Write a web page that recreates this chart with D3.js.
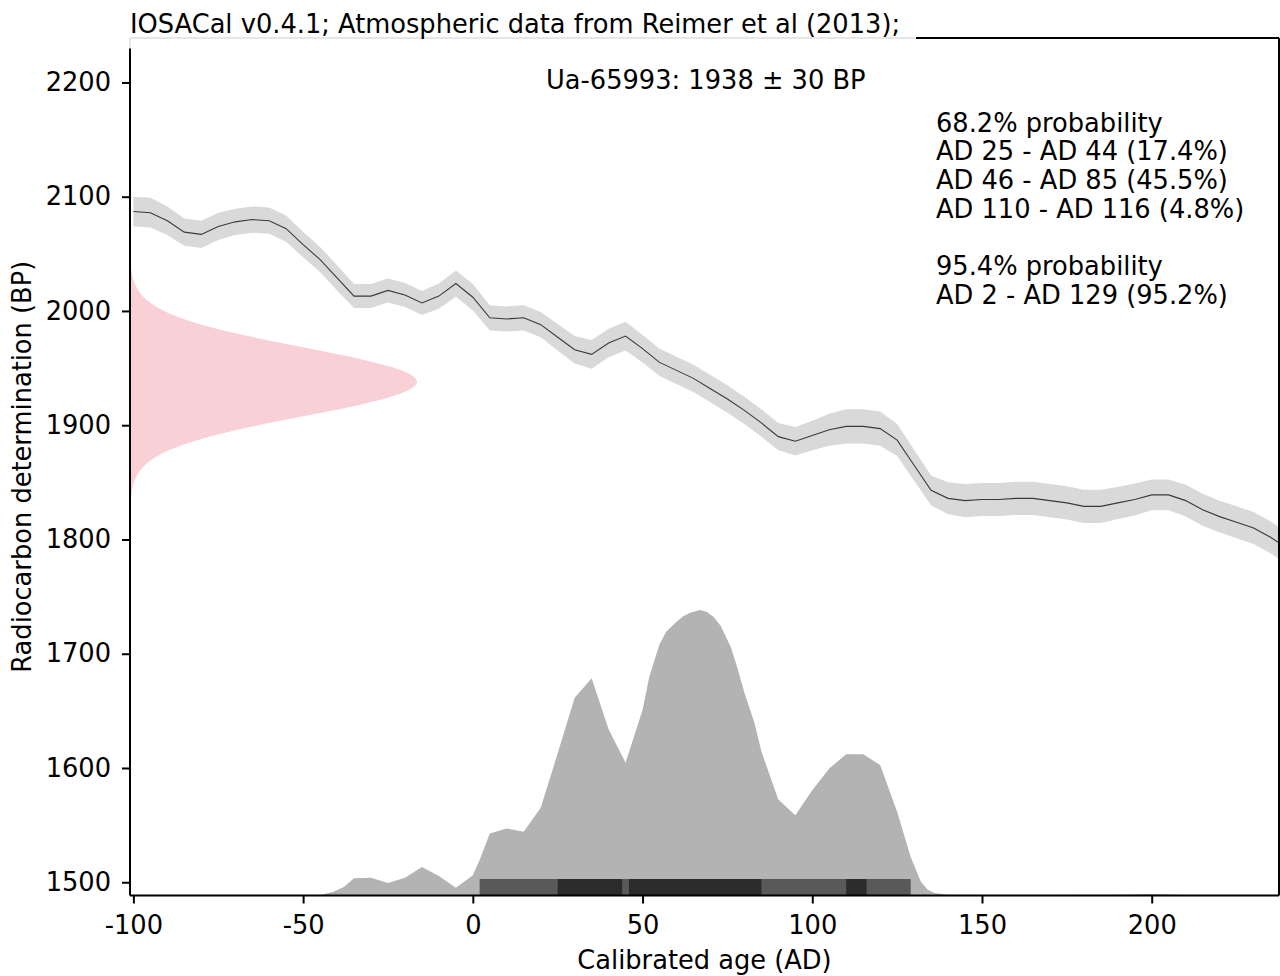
<!DOCTYPE html>
<html>
<head>
<meta charset="utf-8">
<script src="https://cdn.jsdelivr.net/npm/d3@7"></script>
<style>
  body { margin: 0; background: #fff; }
  svg text { font-family: "DejaVu Sans", sans-serif; fill: #000; }
</style>
</head>
<body>
<div id="chart"></div>
<script>
// calibration curve (IntCal13), 5-year steps
const curveYears = d3.range(-100, 241, 5);
const curveBP = [
  2087, 2086, 2079, 2069, 2067, 2074, 2078, 2080, 2079, 2072,
  2058, 2045, 2029, 2013, 2013, 2018, 2014, 2007, 2013, 2024,
  2012, 1994, 1993, 1994, 1988, 1977, 1966, 1962, 1972, 1978,
  1967, 1955, 1948, 1941, 1932, 1923, 1913, 1902, 1890, 1886,
  1891, 1896, 1899, 1899, 1897, 1887, 1865, 1843, 1836, 1834,
  1835, 1835, 1836, 1836, 1834, 1832, 1829, 1829, 1832, 1835,
  1839, 1839, 1834, 1826, 1820, 1815, 1810, 1802, 1792
];
const curveSigma = [
  13, 13, 12.5, 12, 12, 12, 11.5, 11.5, 11.5, 11.5,
  11, 11, 11, 10.5, 10.5, 10.5, 10.5, 10.5, 11, 11.5,
  11.5, 11, 11, 11, 11, 11.5, 12, 12.5, 12.5, 12.5,
  12, 12, 12, 12, 12, 12, 12, 12, 12, 12.5,
  13, 14, 15, 15, 15, 14, 13.5, 13, 14, 14.5,
  14.5, 14.5, 14.5, 14.5, 14.5, 14.5, 14.5, 14.5, 14, 14,
  13.5, 13.5, 14, 14, 14, 14, 14, 14, 14
];

// radiocarbon date 1938 +/- 30 BP, relative density
const dateBP = [1818, 1828, 1838, 1848, 1858, 1868, 1878, 1888, 1898, 1908, 1918, 1928,
  1938, 1948, 1958, 1968, 1978, 1988, 1998, 2008, 2018, 2028, 2038, 2048, 2058];
const dateDensity = [0.0003, 0.0012, 0.0039, 0.011, 0.029, 0.066, 0.135, 0.249, 0.411, 0.607, 0.801, 0.946,
  1, 0.946, 0.801, 0.607, 0.411, 0.249, 0.135, 0.066, 0.029, 0.011, 0.0039, 0.0012, 0.0003];

// calibrated probability (relative to peak)
const calYears = [-50, -45, -41, -38, -35, -30, -25, -20, -15, -10, -5, 0, 2, 5, 10, 15, 20, 25, 30, 35,
  40, 45, 50, 52, 55, 57, 60, 62, 64, 67, 69, 71, 73, 76, 78, 80, 83, 85, 90, 95, 100,
  105, 110, 115, 120, 125, 129, 132, 134, 136, 140, 150, 170, 190, 200, 210, 220];
const calProb = [0, 0.002, 0.013, 0.03, 0.06, 0.062, 0.044, 0.062, 0.1, 0.068, 0.027, 0.071, 0.124, 0.217, 0.235, 0.223, 0.307, 0.498, 0.693, 0.761,
  0.582, 0.465, 0.65, 0.767, 0.88, 0.925, 0.959, 0.978, 0.99, 1, 0.993, 0.975, 0.945, 0.87, 0.795, 0.71, 0.603, 0.505, 0.336, 0.281, 0.369,
  0.445, 0.495, 0.495, 0.457, 0.293, 0.135, 0.048, 0.02, 0.009, 0.003, 0.002, 0.002, 0.003, 0.005, 0.002, 0];

// highest probability ranges
const ranges95 = [[2, 129]];
const ranges68 = [[25, 44], [46, 85], [110, 116]];

const titleText = "IOSACal v0.4.1; Atmospheric data from Reimer et al (2013);";
const dateLabel = "Ua-65993: 1938 \u00b1 30 BP";
const rangeLines = ["68.2% probability", "AD 25 - AD 44 (17.4%)", "AD 46 - AD 85 (45.5%)",
  "AD 110 - AD 116 (4.8%)", "", "95.4% probability", "AD 2 - AD 129 (95.2%)"];
const xTicks = [-100, -50, 0, 50, 100, 150, 200];
const yTicks = [1500, 1600, 1700, 1800, 1900, 2000, 2100, 2200];

const width = 1280, height = 976;
const mLeft = 130, mRight = 1279, mTop = 38, mBottom = 895.5;
const fontSize = 25.7;

const svg = d3.select("#chart").append("svg")
  .attr("width", width)
  .attr("height", height);

const x = d3.scaleLinear().domain([-101, 237.5]).range([mLeft, mRight]);
const y = d3.scaleLinear().domain([1488.4, 2238.9]).range([mBottom, mTop]);
const pinkW = d3.scaleLinear().domain([0, 1]).range([mLeft, 417]);
const probH = d3.scaleLinear().domain([0, 1]).range([mBottom, 610]);

svg.append("clipPath").attr("id", "plot")
  .append("rect")
  .attr("x", mLeft).attr("y", mTop)
  .attr("width", mRight - mLeft).attr("height", mBottom - mTop);

const plot = svg.append("g").attr("clip-path", "url(#plot)");

// measured date
plot.append("path")
  .datum(dateBP.map((b, i) => [b, dateDensity[i]]))
  .attr("fill", "#fad0d7")
  .attr("d", d3.area()
    .curve(d3.curveMonotoneY)
    .y(d => y(d[0]))
    .x0(mLeft)
    .x1(d => pinkW(d[1])));

// calibration curve
const curveData = curveYears.map((yr, i) => ({ yr, bp: curveBP[i], s: curveSigma[i] }));

plot.append("path")
  .datum(curveData)
  .attr("fill", "#d9d9d9")
  .attr("d", d3.area()
    .x(d => x(d.yr))
    .y0(d => y(d.bp - d.s))
    .y1(d => y(d.bp + d.s)));

plot.append("path")
  .datum(curveData)
  .attr("fill", "none")
  .attr("stroke", "#3a3a3a")
  .attr("stroke-width", 1.1)
  .attr("d", d3.line().x(d => x(d.yr)).y(d => y(d.bp)));

// calibrated distribution
plot.append("path")
  .datum(calYears.map((yr, i) => [yr, calProb[i]]))
  .attr("fill", "#b3b3b3")
  .attr("d", d3.area()
    .x(d => x(d[0]))
    .y0(mBottom)
    .y1(d => probH(d[1])));

// range bars
plot.selectAll(".r95")
  .data(ranges95)
  .enter()
  .append("rect")
  .attr("x", d => x(d[0]))
  .attr("width", d => x(d[1]) - x(d[0]))
  .attr("y", mBottom - 16.5)
  .attr("height", 16.5)
  .attr("fill", "#595959");

plot.selectAll(".r68")
  .data(ranges68)
  .enter()
  .append("rect")
  .attr("x", d => x(d[0]))
  .attr("width", d => x(d[1]) - x(d[0]))
  .attr("y", mBottom - 16.5)
  .attr("height", 16.5)
  .attr("fill", "#2b2b2b");

// axes
const xAxis = svg.append("g")
  .attr("transform", `translate(0,${mBottom})`)
  .call(d3.axisBottom(x).tickValues(xTicks).tickFormat(d => String(d))
    .tickSize(8).tickSizeOuter(0).tickPadding(12));

const yAxis = svg.append("g")
  .attr("transform", `translate(${mLeft},0)`)
  .call(d3.axisLeft(y).tickValues(yTicks).tickFormat(d => String(d))
    .tickSize(8).tickSizeOuter(0).tickPadding(11));

[xAxis, yAxis].forEach(a => {
  a.select(".domain").remove();
  a.selectAll("line").attr("stroke", "#000").attr("stroke-width", 2);
  a.selectAll("text").attr("font-size", fontSize).attr("font-family", "DejaVu Sans").attr("fill", "#000");
});

// spines
const spine = (x1, y1, x2, y2) => svg.append("line")
  .attr("x1", x1).attr("y1", y1).attr("x2", x2).attr("y2", y2)
  .attr("stroke", "#000").attr("stroke-width", 2);
spine(mLeft, mTop, mLeft, mBottom);
spine(mLeft, mBottom, mRight, mBottom);
spine(mRight, mTop, mRight, mBottom);
spine(mLeft, mTop, mRight, mTop);

// title with translucent box
svg.append("rect")
  .attr("x", 128.5).attr("y", 4)
  .attr("width", 916 - 128.5).attr("height", 48.5 - 4)
  .attr("fill", "#fff").attr("fill-opacity", 0.9);

svg.append("text")
  .attr("x", 130).attr("y", 33)
  .attr("font-size", fontSize)
  .text(titleText);

svg.append("text")
  .attr("x", 546).attr("y", 88.5)
  .attr("font-size", fontSize)
  .text(dateLabel);

svg.append("g").selectAll("text")
  .data(rangeLines)
  .enter()
  .append("text")
  .attr("x", 936)
  .attr("y", (d, i) => 131.5 + i * 28.7)
  .attr("font-size", fontSize)
  .text(d => d);

// axis titles
svg.append("text")
  .attr("x", (mLeft + mRight) / 2).attr("y", 969)
  .attr("text-anchor", "middle")
  .attr("font-size", fontSize)
  .text("Calibrated age (AD)");

svg.append("text")
  .attr("transform", `translate(31,${(mTop + mBottom) / 2}) rotate(-90)`)
  .attr("text-anchor", "middle")
  .attr("font-size", fontSize)
  .text("Radiocarbon determination (BP)");
</script>
</body>
</html>
